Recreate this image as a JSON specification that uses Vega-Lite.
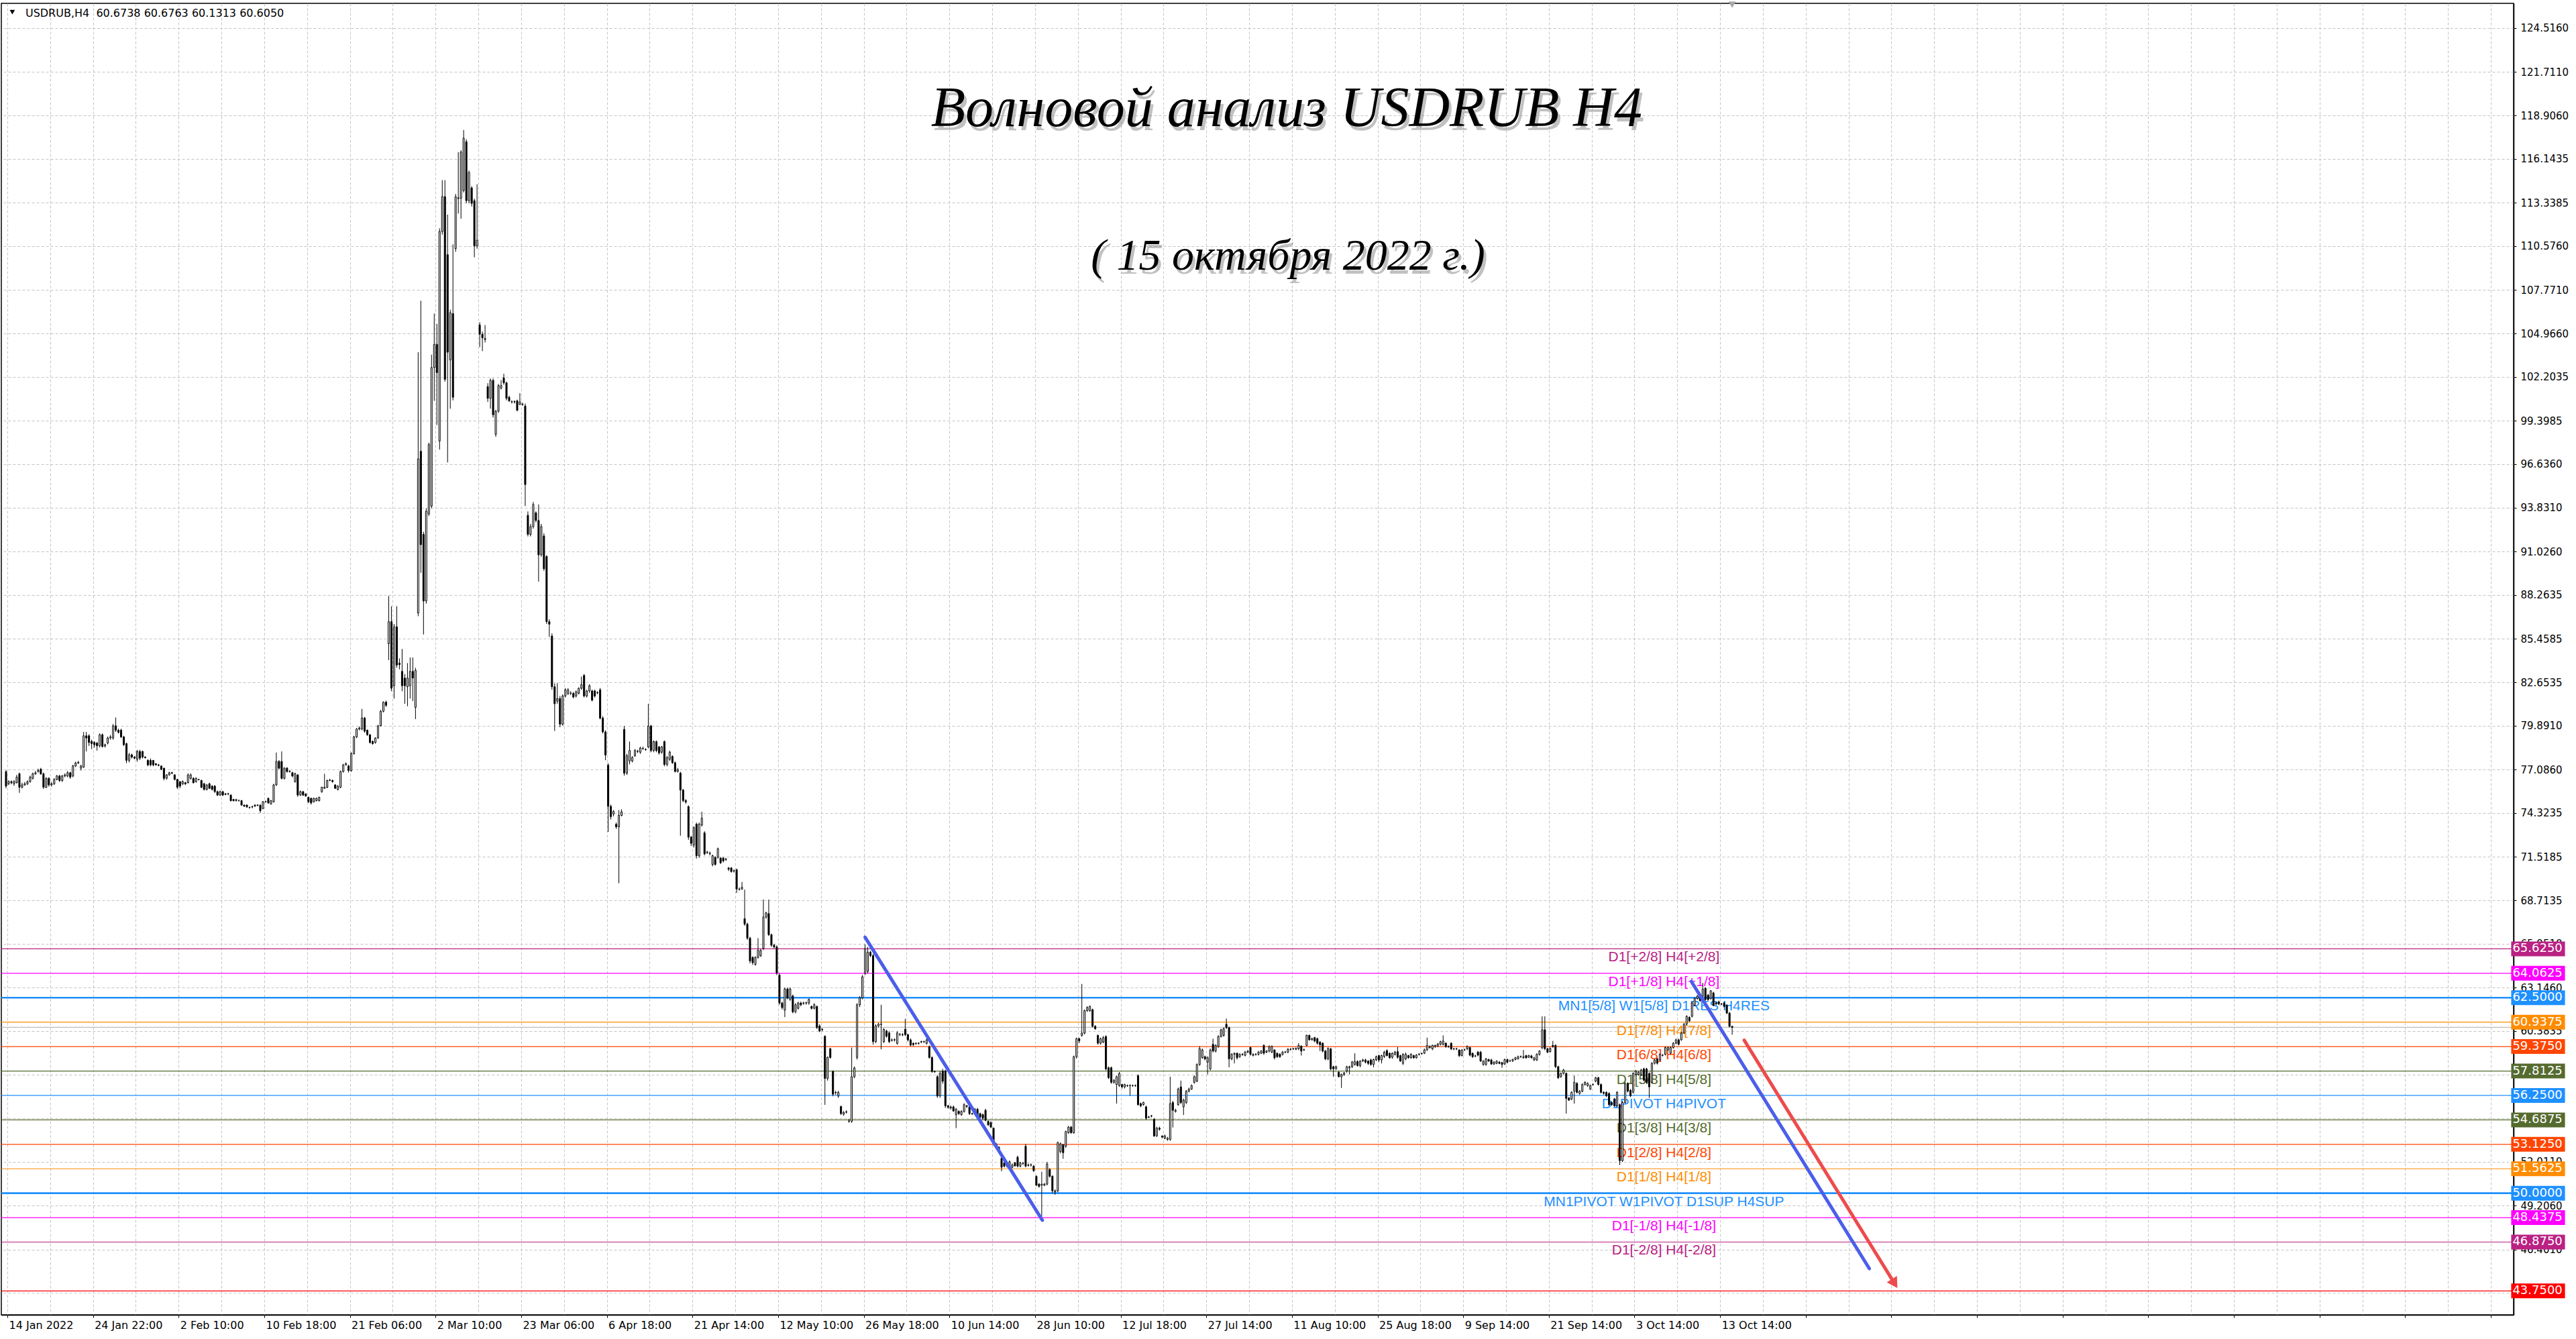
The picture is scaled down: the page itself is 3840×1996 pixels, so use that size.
{
"$schema":"https://vega.github.io/schema/vega-lite/v6.json",
"width":3745,"height":1955,
"autosize":{"type":"none"},
"padding":{"left":2,"top":5,"right":93,"bottom":36},
"background":"white",
"config":{"view":{"stroke":"black","strokeWidth":1.5},"axis":{"domainColor":"black","tickColor":"black","labelColor":"black"}},
"datasets":{
"levels":[
{"v":65.625,"k":"+2/8","t":"D1[+2/8] H4[+2/8]"},
{"v":64.0625,"k":"+1/8","t":"D1[+1/8] H4[+1/8]"},
{"v":62.5,"k":"8/8","t":"MN1[5/8] W1[5/8] D1RES H4RES"},
{"v":60.9375,"k":"7/8","t":"D1[7/8] H4[7/8]"},
{"v":59.375,"k":"6/8","t":"D1[6/8] H4[6/8]"},
{"v":57.8125,"k":"5/8","t":"D1[5/8] H4[5/8]"},
{"v":56.25,"k":"4/8","t":"D1PIVOT H4PIVOT"},
{"v":54.6875,"k":"3/8","t":"D1[3/8] H4[3/8]"},
{"v":53.125,"k":"2/8","t":"D1[2/8] H4[2/8]"},
{"v":51.5625,"k":"1/8","t":"D1[1/8] H4[1/8]"},
{"v":50,"k":"0/8","t":"MN1PIVOT W1PIVOT D1SUP H4SUP"},
{"v":48.4375,"k":"-1/8","t":"D1[-1/8] H4[-1/8]"},
{"v":46.875,"k":"-2/8","t":"D1[-2/8] H4[-2/8]"},
{"v":43.75,"k":"low","t":""}
],
"lines":[
{"g":"b1","i":321,"v":66.37},{"g":"b1","i":387.25,"v":48.27},
{"g":"b2","i":629.75,"v":63.54},{"g":"b2","i":696.25,"v":45.18},
{"g":"r","i":649.5,"v":59.78},{"g":"r","i":705.7,"v":44.22}
],
"candles":[
{"i":0,"o":76.96,"h":77.05,"l":75.9,"c":76.03},
{"i":1,"o":76.18,"h":76.4,"l":76.1,"c":76.32},
{"i":2,"o":76.32,"h":76.4,"l":76.15,"c":76.25},
{"i":3,"o":76.18,"h":76.42,"l":76.05,"c":76.32},
{"i":4,"o":76.25,"h":76.75,"l":76.2,"c":76.61},
{"i":5,"o":76.82,"h":76.9,"l":75.6,"c":75.96},
{"i":6,"o":75.96,"h":76.25,"l":75.88,"c":76.11},
{"i":7,"o":76.11,"h":76.3,"l":76.05,"c":76.18},
{"i":8,"o":76.18,"h":76.4,"l":76.1,"c":76.32},
{"i":9,"o":76.32,"h":76.7,"l":76.25,"c":76.61},
{"i":10,"o":76.53,"h":76.9,"l":76.45,"c":76.82},
{"i":11,"o":76.82,"h":77.0,"l":76.75,"c":76.89},
{"i":12,"o":76.96,"h":77.15,"l":76.9,"c":77.03},
{"i":13,"o":77.11,"h":77.2,"l":76.75,"c":76.82},
{"i":14,"o":76.82,"h":76.9,"l":75.85,"c":75.96},
{"i":15,"o":75.96,"h":76.6,"l":75.9,"c":76.53},
{"i":16,"o":76.53,"h":76.6,"l":76.0,"c":76.11},
{"i":17,"o":76.11,"h":76.3,"l":76.0,"c":76.18},
{"i":18,"o":76.18,"h":76.55,"l":76.1,"c":76.46},
{"i":19,"o":76.46,"h":76.75,"l":76.4,"c":76.68},
{"i":20,"o":76.68,"h":76.75,"l":76.3,"c":76.39},
{"i":21,"o":76.39,"h":76.75,"l":76.3,"c":76.68},
{"i":22,"o":76.68,"h":76.85,"l":76.6,"c":76.75},
{"i":23,"o":76.68,"h":77.0,"l":76.6,"c":76.89},
{"i":24,"o":76.89,"h":76.95,"l":76.5,"c":76.61},
{"i":25,"o":76.68,"h":77.4,"l":76.6,"c":77.32},
{"i":26,"o":77.32,"h":77.6,"l":77.25,"c":77.51},
{"i":27,"o":77.51,"h":77.65,"l":77.45,"c":77.55},
{"i":28,"o":77.18,"h":77.4,"l":77.03,"c":77.32},
{"i":29,"o":77.25,"h":79.5,"l":77.2,"c":79.25},
{"i":30,"o":79.25,"h":79.5,"l":78.25,"c":79.11},
{"i":31,"o":79.25,"h":79.35,"l":78.6,"c":78.82},
{"i":32,"o":78.89,"h":79.0,"l":78.4,"c":78.75},
{"i":33,"o":78.82,"h":78.9,"l":78.5,"c":78.68},
{"i":34,"o":78.79,"h":78.85,"l":78.3,"c":78.61},
{"i":35,"o":78.61,"h":79.4,"l":78.5,"c":79.32},
{"i":36,"o":79.32,"h":79.4,"l":78.5,"c":78.56},
{"i":37,"o":78.6,"h":78.75,"l":78.5,"c":78.68},
{"i":38,"o":78.79,"h":79.2,"l":78.7,"c":79.11},
{"i":39,"o":79.11,"h":79.3,"l":79.0,"c":79.18},
{"i":40,"o":79.11,"h":80.0,"l":79.0,"c":79.89},
{"i":41,"o":79.89,"h":80.42,"l":79.5,"c":79.61},
{"i":42,"o":79.61,"h":79.7,"l":79.4,"c":79.47},
{"i":43,"o":79.61,"h":79.7,"l":79.1,"c":79.18},
{"i":44,"o":79.18,"h":79.25,"l":78.6,"c":78.68},
{"i":45,"o":78.75,"h":78.8,"l":77.5,"c":77.68},
{"i":46,"o":77.68,"h":78.15,"l":77.55,"c":78.04},
{"i":47,"o":78.04,"h":78.1,"l":77.8,"c":77.89},
{"i":48,"o":77.89,"h":77.95,"l":77.75,"c":77.82},
{"i":49,"o":77.75,"h":78.35,"l":77.6,"c":78.25},
{"i":50,"o":78.25,"h":78.35,"l":77.7,"c":77.82},
{"i":51,"o":78.25,"h":78.3,"l":77.8,"c":77.89},
{"i":52,"o":77.89,"h":77.95,"l":77.8,"c":77.85},
{"i":53,"o":77.68,"h":77.75,"l":77.3,"c":77.39},
{"i":54,"o":77.68,"h":77.8,"l":77.3,"c":77.39},
{"i":55,"o":77.68,"h":77.7,"l":77.3,"c":77.39},
{"i":56,"o":77.46,"h":77.5,"l":77.35,"c":77.39},
{"i":57,"o":77.39,"h":77.45,"l":77.3,"c":77.36},
{"i":58,"o":77.32,"h":77.35,"l":77.05,"c":77.11},
{"i":59,"o":77.18,"h":77.2,"l":76.4,"c":76.53},
{"i":60,"o":76.53,"h":76.8,"l":76.45,"c":76.75},
{"i":61,"o":76.75,"h":76.95,"l":76.7,"c":76.89},
{"i":62,"o":76.89,"h":76.95,"l":76.8,"c":76.86},
{"i":63,"o":76.75,"h":76.8,"l":76.4,"c":76.46},
{"i":64,"o":76.46,"h":76.5,"l":75.85,"c":75.96},
{"i":65,"o":76.32,"h":76.35,"l":75.9,"c":76.03},
{"i":66,"o":76.18,"h":76.4,"l":76.1,"c":76.32},
{"i":67,"o":76.25,"h":76.3,"l":76.1,"c":76.18},
{"i":68,"o":76.25,"h":76.85,"l":76.2,"c":76.75},
{"i":69,"o":76.53,"h":76.85,"l":76.45,"c":76.75},
{"i":70,"o":76.53,"h":76.6,"l":76.2,"c":76.25},
{"i":71,"o":76.32,"h":76.6,"l":76.25,"c":76.53},
{"i":72,"o":76.46,"h":76.5,"l":76.4,"c":76.45},
{"i":73,"o":76.39,"h":76.45,"l":75.9,"c":75.96},
{"i":74,"o":76.18,"h":76.25,"l":75.75,"c":75.82},
{"i":75,"o":75.82,"h":76.15,"l":75.75,"c":76.11},
{"i":76,"o":76.18,"h":76.25,"l":75.85,"c":75.89},
{"i":77,"o":76.03,"h":76.1,"l":75.75,"c":75.82},
{"i":78,"o":76.03,"h":76.1,"l":75.6,"c":75.68},
{"i":79,"o":75.68,"h":75.75,"l":75.4,"c":75.46},
{"i":80,"o":75.46,"h":75.75,"l":75.4,"c":75.68},
{"i":81,"o":75.68,"h":75.72,"l":75.4,"c":75.46},
{"i":82,"o":75.53,"h":75.6,"l":75.45,"c":75.5},
{"i":83,"o":75.53,"h":75.6,"l":75.45,"c":75.55},
{"i":84,"o":75.46,"h":75.5,"l":75.05,"c":75.1},
{"i":85,"o":75.18,"h":75.22,"l":75.05,"c":75.1},
{"i":86,"o":75.1,"h":75.22,"l":75.05,"c":75.18},
{"i":87,"o":75.1,"h":75.18,"l":75.05,"c":75.1},
{"i":88,"o":75.1,"h":75.15,"l":74.78,"c":74.82},
{"i":89,"o":74.82,"h":74.86,"l":74.7,"c":74.75},
{"i":90,"o":74.82,"h":74.86,"l":74.65,"c":74.7},
{"i":91,"o":74.67,"h":74.72,"l":74.6,"c":74.65},
{"i":92,"o":74.7,"h":74.78,"l":74.62,"c":74.72},
{"i":93,"o":74.75,"h":74.88,"l":74.7,"c":74.82},
{"i":94,"o":74.82,"h":74.88,"l":74.75,"c":74.8},
{"i":95,"o":74.82,"h":74.86,"l":74.32,"c":74.46},
{"i":96,"o":74.6,"h":75.08,"l":74.55,"c":75.03},
{"i":97,"o":75.03,"h":75.1,"l":74.98,"c":75.05},
{"i":98,"o":75.25,"h":75.3,"l":74.9,"c":74.96},
{"i":99,"o":74.89,"h":75.15,"l":74.85,"c":75.1},
{"i":100,"o":75.03,"h":76.18,"l":74.98,"c":76.11},
{"i":101,"o":76.11,"h":78.18,"l":76.05,"c":77.61},
{"i":102,"o":77.61,"h":77.7,"l":77.1,"c":77.18},
{"i":103,"o":77.61,"h":78.25,"l":76.45,"c":76.53},
{"i":104,"o":76.53,"h":77.25,"l":76.45,"c":77.18},
{"i":105,"o":77.18,"h":77.25,"l":76.9,"c":76.96},
{"i":106,"o":76.96,"h":77.05,"l":76.9,"c":76.98},
{"i":107,"o":76.89,"h":76.95,"l":76.6,"c":76.68},
{"i":108,"o":76.32,"h":76.9,"l":76.25,"c":76.82},
{"i":109,"o":76.75,"h":76.8,"l":75.35,"c":75.46},
{"i":110,"o":75.46,"h":75.75,"l":75.4,"c":75.68},
{"i":111,"o":75.68,"h":75.72,"l":75.4,"c":75.46},
{"i":112,"o":75.53,"h":75.58,"l":75.35,"c":75.4},
{"i":113,"o":75.32,"h":75.36,"l":74.96,"c":75.03},
{"i":114,"o":75.25,"h":75.3,"l":74.85,"c":74.96},
{"i":115,"o":75.03,"h":75.3,"l":74.98,"c":75.25},
{"i":116,"o":75.1,"h":75.3,"l":75.05,"c":75.25},
{"i":117,"o":75.1,"h":75.36,"l":75.05,"c":75.32},
{"i":118,"o":75.68,"h":76.0,"l":75.6,"c":75.96},
{"i":119,"o":75.89,"h":76.82,"l":75.85,"c":75.96},
{"i":120,"o":75.96,"h":76.45,"l":75.9,"c":76.39},
{"i":121,"o":76.39,"h":76.5,"l":76.35,"c":76.42},
{"i":122,"o":76.39,"h":76.45,"l":76.25,"c":76.32},
{"i":123,"o":76.11,"h":76.15,"l":75.85,"c":75.89},
{"i":124,"o":75.82,"h":76.1,"l":75.75,"c":76.03},
{"i":125,"o":75.96,"h":77.03,"l":75.9,"c":76.96},
{"i":126,"o":76.96,"h":77.45,"l":76.9,"c":77.39},
{"i":127,"o":77.39,"h":77.55,"l":77.35,"c":77.46},
{"i":128,"o":77.32,"h":77.4,"l":76.9,"c":77.03},
{"i":129,"o":77.03,"h":78.2,"l":76.95,"c":78.11},
{"i":130,"o":78.11,"h":79.25,"l":78.05,"c":79.18},
{"i":131,"o":79.18,"h":79.75,"l":79.1,"c":79.68},
{"i":132,"o":79.68,"h":79.85,"l":79.6,"c":79.75},
{"i":133,"o":79.68,"h":80.97,"l":79.6,"c":80.39},
{"i":134,"o":80.39,"h":80.45,"l":79.45,"c":79.54},
{"i":135,"o":79.61,"h":79.65,"l":79.25,"c":79.32},
{"i":136,"o":79.32,"h":79.35,"l":78.75,"c":78.82},
{"i":137,"o":78.89,"h":78.95,"l":78.68,"c":78.75},
{"i":138,"o":78.82,"h":79.15,"l":78.75,"c":79.11},
{"i":139,"o":79.11,"h":79.95,"l":79.05,"c":79.89},
{"i":140,"o":79.89,"h":80.9,"l":79.85,"c":80.82},
{"i":141,"o":80.82,"h":81.45,"l":80.75,"c":81.4},
{"i":142,"o":81.4,"h":81.5,"l":81.1,"c":81.2},
{"i":143,"o":85.14,"h":88.19,"l":84.09,"c":86.55},
{"i":144,"o":86.55,"h":87.54,"l":82.1,"c":82.29},
{"i":145,"o":82.45,"h":86.4,"l":81.63,"c":86.22},
{"i":146,"o":86.22,"h":87.54,"l":83.6,"c":83.77},
{"i":147,"o":83.9,"h":84.2,"l":83.5,"c":83.8},
{"i":148,"o":83.37,"h":84.8,"l":82.1,"c":82.45},
{"i":149,"o":82.94,"h":83.2,"l":81.3,"c":82.45},
{"i":150,"o":82.39,"h":83.9,"l":81.14,"c":82.94},
{"i":151,"o":82.45,"h":84.26,"l":81.63,"c":83.37},
{"i":152,"o":83.37,"h":84.26,"l":81.47,"c":82.94},
{"i":153,"o":81.07,"h":83.6,"l":80.32,"c":83.44},
{"i":154,"o":87.11,"h":103.78,"l":86.9,"c":96.96},
{"i":155,"o":97.45,"h":107.07,"l":89.67,"c":91.47},
{"i":156,"o":92.13,"h":92.3,"l":85.73,"c":87.87},
{"i":157,"o":87.87,"h":93.8,"l":87.7,"c":93.61},
{"i":158,"o":93.44,"h":98.0,"l":93.3,"c":97.88},
{"i":159,"o":93.94,"h":103.62,"l":93.8,"c":102.8},
{"i":160,"o":102.8,"h":106.25,"l":100.67,"c":104.28},
{"i":161,"o":104.28,"h":105.59,"l":99.12,"c":102.47},
{"i":162,"o":98.1,"h":111.7,"l":97.55,"c":111.5},
{"i":163,"o":111.5,"h":114.78,"l":111.3,"c":113.73},
{"i":164,"o":113.73,"h":114.78,"l":101.9,"c":102.04},
{"i":165,"o":110.02,"h":112.58,"l":96.73,"c":103.78},
{"i":166,"o":103.29,"h":106.5,"l":100.17,"c":106.31},
{"i":167,"o":106.25,"h":110.68,"l":100.7,"c":100.9},
{"i":168,"o":110.41,"h":113.9,"l":110.2,"c":113.73},
{"i":169,"o":113.6,"h":116.58,"l":112.65,"c":113.66},
{"i":170,"o":113.63,"h":116.7,"l":112.32,"c":116.58},
{"i":171,"o":114.12,"h":117.99,"l":114.0,"c":117.47},
{"i":172,"o":117.24,"h":117.4,"l":113.3,"c":113.47},
{"i":173,"o":113.47,"h":115.4,"l":113.3,"c":115.27},
{"i":174,"o":114.29,"h":114.4,"l":113.1,"c":113.3},
{"i":175,"o":113.47,"h":113.6,"l":109.85,"c":110.58},
{"i":176,"o":110.58,"h":114.52,"l":110.4,"c":110.94},
{"i":177,"o":105.52,"h":105.7,"l":104.11,"c":104.93},
{"i":178,"o":104.93,"h":105.1,"l":103.85,"c":104.7},
{"i":179,"o":104.65,"h":105.52,"l":104.4,"c":104.6},
{"i":180,"o":101.58,"h":101.8,"l":100.6,"c":100.83},
{"i":181,"o":100.83,"h":102.1,"l":100.17,"c":101.98},
{"i":182,"o":101.98,"h":102.1,"l":99.6,"c":99.78},
{"i":183,"o":98.53,"h":100.1,"l":98.37,"c":100.01},
{"i":184,"o":100.01,"h":101.75,"l":99.9,"c":101.65},
{"i":185,"o":101.49,"h":102.0,"l":101.4,"c":101.65},
{"i":186,"o":102.14,"h":102.4,"l":101.7,"c":101.82},
{"i":187,"o":101.82,"h":101.9,"l":100.7,"c":100.83},
{"i":188,"o":100.9,"h":101.0,"l":100.6,"c":100.67},
{"i":189,"o":100.6,"h":100.7,"l":100.5,"c":100.62},
{"i":190,"o":100.62,"h":100.7,"l":100.5,"c":100.6},
{"i":191,"o":100.67,"h":100.75,"l":100.0,"c":100.07},
{"i":192,"o":100.44,"h":101.16,"l":100.4,"c":100.6},
{"i":193,"o":100.44,"h":100.55,"l":100.35,"c":100.46},
{"i":194,"o":100.34,"h":100.5,"l":93.94,"c":95.32},
{"i":195,"o":93.35,"h":93.6,"l":92.0,"c":92.13},
{"i":196,"o":92.13,"h":92.8,"l":92.0,"c":92.63},
{"i":197,"o":92.63,"h":94.2,"l":92.5,"c":94.04},
{"i":198,"o":93.51,"h":93.6,"l":92.9,"c":93.02},
{"i":199,"o":93.02,"h":94.04,"l":89.11,"c":90.82},
{"i":200,"o":90.82,"h":92.8,"l":90.7,"c":92.63},
{"i":201,"o":92.03,"h":92.2,"l":89.8,"c":89.93},
{"i":202,"o":90.72,"h":90.8,"l":86.4,"c":86.55},
{"i":203,"o":86.55,"h":86.7,"l":85.57,"c":86.39},
{"i":204,"o":85.63,"h":85.8,"l":82.2,"c":82.39},
{"i":205,"o":82.39,"h":82.6,"l":79.56,"c":81.3},
{"i":206,"o":81.47,"h":82.62,"l":81.3,"c":81.63},
{"i":207,"o":81.63,"h":81.8,"l":79.8,"c":79.99},
{"i":208,"o":79.99,"h":81.9,"l":79.9,"c":81.8},
{"i":209,"o":81.8,"h":82.3,"l":81.7,"c":82.19},
{"i":210,"o":81.96,"h":82.3,"l":81.85,"c":82.19},
{"i":211,"o":81.96,"h":82.1,"l":81.85,"c":81.98},
{"i":212,"o":81.96,"h":82.05,"l":81.65,"c":81.73},
{"i":213,"o":81.8,"h":82.15,"l":81.7,"c":82.06},
{"i":214,"o":81.96,"h":82.35,"l":81.9,"c":82.29},
{"i":215,"o":82.29,"h":83.04,"l":82.2,"c":82.52},
{"i":216,"o":83.11,"h":83.2,"l":81.7,"c":81.8},
{"i":217,"o":81.8,"h":82.2,"l":81.7,"c":82.12},
{"i":218,"o":82.12,"h":82.55,"l":82.0,"c":82.45},
{"i":219,"o":82.12,"h":82.2,"l":81.45,"c":81.53},
{"i":220,"o":82.12,"h":82.2,"l":81.7,"c":81.8},
{"i":221,"o":82.02,"h":82.1,"l":81.9,"c":82.0},
{"i":222,"o":82.19,"h":82.3,"l":80.3,"c":80.38},
{"i":223,"o":80.38,"h":80.5,"l":79.4,"c":79.5},
{"i":224,"o":79.5,"h":79.6,"l":77.69,"c":78.02},
{"i":225,"o":77.37,"h":77.5,"l":73.1,"c":74.74},
{"i":226,"o":74.74,"h":74.85,"l":73.9,"c":74.08},
{"i":227,"o":74.25,"h":74.5,"l":74.1,"c":74.41},
{"i":228,"o":73.59,"h":73.7,"l":73.3,"c":73.43},
{"i":229,"o":73.43,"h":74.5,"l":69.82,"c":74.16},
{"i":230,"o":74.16,"h":74.55,"l":74.1,"c":74.39},
{"i":231,"o":79.66,"h":79.88,"l":76.7,"c":76.86},
{"i":232,"o":76.86,"h":78.1,"l":76.75,"c":77.98},
{"i":233,"o":77.64,"h":78.88,"l":77.42,"c":78.31},
{"i":234,"o":77.64,"h":77.95,"l":77.55,"c":77.87},
{"i":235,"o":77.98,"h":78.4,"l":77.9,"c":78.31},
{"i":236,"o":78.25,"h":78.35,"l":78.15,"c":78.27},
{"i":237,"o":78.2,"h":78.55,"l":78.1,"c":78.47},
{"i":238,"o":78.43,"h":78.55,"l":78.35,"c":78.45},
{"i":239,"o":78.38,"h":78.45,"l":78.3,"c":78.36},
{"i":240,"o":78.54,"h":81.3,"l":78.45,"c":79.88},
{"i":241,"o":79.88,"h":79.95,"l":78.2,"c":78.31},
{"i":242,"o":78.31,"h":78.95,"l":78.2,"c":78.88},
{"i":243,"o":78.88,"h":78.95,"l":78.2,"c":78.31},
{"i":244,"o":78.54,"h":78.6,"l":78.05,"c":78.16},
{"i":245,"o":78.2,"h":78.6,"l":78.1,"c":78.54},
{"i":246,"o":78.88,"h":78.95,"l":77.3,"c":77.42},
{"i":247,"o":77.42,"h":77.95,"l":77.3,"c":77.87},
{"i":248,"o":77.75,"h":78.3,"l":77.65,"c":78.2},
{"i":249,"o":77.93,"h":78.0,"l":77.45,"c":77.53},
{"i":250,"o":77.53,"h":77.6,"l":76.9,"c":76.97},
{"i":251,"o":76.97,"h":77.2,"l":76.9,"c":77.08},
{"i":252,"o":76.86,"h":76.95,"l":72.86,"c":75.78},
{"i":253,"o":75.78,"h":75.85,"l":75.0,"c":75.11},
{"i":254,"o":75.11,"h":75.2,"l":74.9,"c":75.02},
{"i":255,"o":74.72,"h":74.8,"l":72.6,"c":72.77},
{"i":256,"o":72.77,"h":72.85,"l":72.2,"c":72.37},
{"i":257,"o":72.26,"h":73.45,"l":72.1,"c":73.38},
{"i":258,"o":73.6,"h":73.7,"l":71.4,"c":71.58},
{"i":259,"o":71.58,"h":73.7,"l":71.45,"c":73.6},
{"i":260,"o":73.54,"h":74.39,"l":73.45,"c":73.98},
{"i":261,"o":73.04,"h":73.15,"l":71.6,"c":71.7},
{"i":262,"o":71.81,"h":71.9,"l":71.7,"c":71.78},
{"i":263,"o":71.74,"h":71.85,"l":71.6,"c":71.72},
{"i":264,"o":71.02,"h":71.65,"l":70.9,"c":71.58},
{"i":265,"o":71.47,"h":71.55,"l":70.95,"c":71.02},
{"i":266,"o":71.47,"h":72.1,"l":71.4,"c":72.03},
{"i":267,"o":71.43,"h":71.5,"l":71.05,"c":71.13},
{"i":268,"o":71.43,"h":71.5,"l":71.15,"c":71.25},
{"i":269,"o":71.36,"h":71.45,"l":71.25,"c":71.34},
{"i":270,"o":70.8,"h":70.85,"l":70.6,"c":70.72},
{"i":271,"o":70.8,"h":70.85,"l":70.5,"c":70.57},
{"i":272,"o":70.62,"h":70.7,"l":70.5,"c":70.6},
{"i":273,"o":70.69,"h":70.75,"l":69.2,"c":69.45},
{"i":274,"o":69.45,"h":69.55,"l":69.35,"c":69.43},
{"i":275,"o":69.45,"h":69.9,"l":69.4,"c":69.56},
{"i":276,"o":67.55,"h":69.41,"l":67.1,"c":67.21},
{"i":277,"o":67.21,"h":67.3,"l":66.2,"c":66.31},
{"i":278,"o":66.31,"h":66.4,"l":64.7,"c":64.85},
{"i":279,"o":65.08,"h":65.15,"l":64.6,"c":64.74},
{"i":280,"o":64.63,"h":65.15,"l":64.55,"c":65.08},
{"i":281,"o":65.08,"h":66.31,"l":65.0,"c":65.53},
{"i":282,"o":65.19,"h":65.6,"l":65.1,"c":65.53},
{"i":283,"o":65.64,"h":68.78,"l":65.55,"c":67.66},
{"i":284,"o":67.66,"h":68.0,"l":67.55,"c":67.93},
{"i":285,"o":67.88,"h":68.78,"l":66.45,"c":66.53},
{"i":286,"o":66.53,"h":66.6,"l":65.75,"c":65.86},
{"i":287,"o":65.86,"h":65.95,"l":65.65,"c":65.75},
{"i":288,"o":65.75,"h":65.85,"l":63.95,"c":64.07},
{"i":289,"o":63.95,"h":64.05,"l":62.05,"c":62.16},
{"i":290,"o":62.16,"h":62.25,"l":61.75,"c":61.87},
{"i":291,"o":61.71,"h":63.15,"l":61.26,"c":63.06},
{"i":292,"o":63.06,"h":63.15,"l":62.4,"c":62.5},
{"i":293,"o":62.39,"h":63.15,"l":62.3,"c":63.06},
{"i":294,"o":62.61,"h":62.7,"l":61.5,"c":61.6},
{"i":295,"o":61.6,"h":62.15,"l":61.5,"c":62.05},
{"i":296,"o":61.82,"h":62.25,"l":61.75,"c":62.16},
{"i":297,"o":62.16,"h":62.25,"l":61.95,"c":62.05},
{"i":298,"o":62.16,"h":62.25,"l":62.05,"c":62.14},
{"i":299,"o":62.16,"h":62.25,"l":62.05,"c":62.18},
{"i":300,"o":62.16,"h":62.45,"l":62.05,"c":62.39},
{"i":301,"o":61.94,"h":62.0,"l":61.75,"c":61.82},
{"i":302,"o":61.82,"h":62.15,"l":61.75,"c":62.05},
{"i":303,"o":61.94,"h":62.0,"l":60.5,"c":60.59},
{"i":304,"o":60.7,"h":60.8,"l":60.3,"c":60.37},
{"i":305,"o":60.48,"h":60.55,"l":60.35,"c":60.46},
{"i":306,"o":60.03,"h":60.1,"l":55.65,"c":57.34},
{"i":307,"o":57.34,"h":58.75,"l":57.2,"c":58.68},
{"i":308,"o":59.24,"h":59.3,"l":58.6,"c":58.68},
{"i":309,"o":57.78,"h":57.85,"l":56.2,"c":56.33},
{"i":310,"o":56.44,"h":56.55,"l":56.3,"c":56.42},
{"i":311,"o":56.21,"h":56.55,"l":56.1,"c":56.44},
{"i":312,"o":55.54,"h":55.6,"l":55.0,"c":55.09},
{"i":313,"o":55.05,"h":55.25,"l":54.95,"c":55.16},
{"i":314,"o":55.2,"h":55.3,"l":55.1,"c":55.18},
{"i":315,"o":54.6,"h":54.75,"l":54.5,"c":54.62},
{"i":316,"o":54.6,"h":59.31,"l":54.5,"c":57.45},
{"i":317,"o":57.45,"h":58.1,"l":57.35,"c":58.01},
{"i":318,"o":58.68,"h":62.15,"l":58.55,"c":62.05},
{"i":319,"o":62.05,"h":62.6,"l":61.9,"c":62.5},
{"i":320,"o":62.5,"h":63.95,"l":62.4,"c":63.84},
{"i":321,"o":64.07,"h":65.9,"l":63.95,"c":65.64},
{"i":322,"o":64.18,"h":65.75,"l":64.05,"c":65.41},
{"i":323,"o":65.41,"h":65.5,"l":65.1,"c":65.19},
{"i":324,"o":65.19,"h":65.3,"l":59.5,"c":59.69},
{"i":325,"o":59.69,"h":60.8,"l":59.6,"c":60.7},
{"i":326,"o":60.7,"h":60.9,"l":60.6,"c":60.81},
{"i":327,"o":60.81,"h":62.05,"l":59.2,"c":60.79},
{"i":328,"o":59.69,"h":60.55,"l":59.6,"c":60.48},
{"i":329,"o":60.37,"h":60.45,"l":59.95,"c":60.03},
{"i":330,"o":60.25,"h":60.35,"l":59.6,"c":59.69},
{"i":331,"o":59.8,"h":59.9,"l":59.7,"c":59.78},
{"i":332,"o":59.8,"h":59.9,"l":59.7,"c":59.82},
{"i":333,"o":59.58,"h":60.35,"l":59.5,"c":60.25},
{"i":334,"o":60.14,"h":60.25,"l":60.05,"c":60.15},
{"i":335,"o":60.14,"h":60.25,"l":60.05,"c":60.12},
{"i":336,"o":60.48,"h":61.15,"l":60.05,"c":60.14},
{"i":337,"o":60.14,"h":60.2,"l":59.7,"c":59.8},
{"i":338,"o":59.8,"h":59.9,"l":59.4,"c":59.47},
{"i":339,"o":59.58,"h":59.65,"l":59.4,"c":59.5},
{"i":340,"o":59.58,"h":59.65,"l":59.5,"c":59.56},
{"i":341,"o":59.58,"h":59.65,"l":59.5,"c":59.6},
{"i":342,"o":59.69,"h":59.75,"l":59.6,"c":59.67},
{"i":343,"o":59.69,"h":59.75,"l":59.6,"c":59.7},
{"i":344,"o":59.58,"h":59.9,"l":59.5,"c":59.8},
{"i":345,"o":59.36,"h":59.45,"l":58.6,"c":58.68},
{"i":346,"o":58.68,"h":58.75,"l":57.7,"c":57.78},
{"i":347,"o":57.78,"h":57.85,"l":57.7,"c":57.76},
{"i":348,"o":57.45,"h":57.55,"l":56.1,"c":56.21},
{"i":349,"o":56.23,"h":57.8,"l":56.1,"c":57.66},
{"i":350,"o":57.81,"h":57.95,"l":57.0,"c":57.16},
{"i":351,"o":57.81,"h":57.9,"l":55.45,"c":55.59},
{"i":352,"o":55.59,"h":55.65,"l":55.4,"c":55.49},
{"i":353,"o":55.45,"h":55.6,"l":55.35,"c":55.52},
{"i":354,"o":55.52,"h":55.6,"l":55.2,"c":55.26},
{"i":355,"o":55.02,"h":55.45,"l":54.16,"c":55.37},
{"i":356,"o":55.23,"h":55.3,"l":55.0,"c":55.09},
{"i":357,"o":55.02,"h":55.3,"l":54.95,"c":55.23},
{"i":358,"o":55.23,"h":55.75,"l":55.15,"c":55.66},
{"i":359,"o":55.59,"h":55.65,"l":55.45,"c":55.55},
{"i":360,"o":55.52,"h":55.6,"l":55.0,"c":55.09},
{"i":361,"o":55.09,"h":55.15,"l":55.0,"c":55.07},
{"i":362,"o":55.09,"h":55.45,"l":55.0,"c":55.37},
{"i":363,"o":55.37,"h":55.45,"l":54.9,"c":54.95},
{"i":364,"o":55.09,"h":55.15,"l":54.8,"c":54.87},
{"i":365,"o":55.02,"h":55.1,"l":54.7,"c":54.8},
{"i":366,"o":55.3,"h":55.4,"l":54.6,"c":54.66},
{"i":367,"o":54.59,"h":54.65,"l":54.3,"c":54.37},
{"i":368,"o":54.52,"h":54.6,"l":54.15,"c":54.23},
{"i":369,"o":54.16,"h":54.2,"l":53.05,"c":53.16},
{"i":370,"o":53.16,"h":53.2,"l":52.85,"c":52.94},
{"i":371,"o":52.94,"h":53.0,"l":52.7,"c":52.8},
{"i":372,"o":52.23,"h":52.3,"l":51.4,"c":51.66},
{"i":373,"o":51.94,"h":52.0,"l":51.65,"c":51.73},
{"i":374,"o":51.73,"h":52.0,"l":51.65,"c":51.94},
{"i":375,"o":51.73,"h":52.1,"l":51.65,"c":52.01},
{"i":376,"o":51.66,"h":51.9,"l":51.6,"c":51.8},
{"i":377,"o":51.94,"h":52.0,"l":51.7,"c":51.75},
{"i":378,"o":52.3,"h":52.4,"l":51.65,"c":51.73},
{"i":379,"o":51.73,"h":52.0,"l":51.65,"c":51.94},
{"i":380,"o":51.91,"h":52.0,"l":51.8,"c":51.9},
{"i":381,"o":53.0,"h":53.15,"l":51.65,"c":51.73},
{"i":382,"o":51.8,"h":51.9,"l":51.7,"c":51.78},
{"i":383,"o":51.8,"h":51.9,"l":51.7,"c":51.82},
{"i":384,"o":51.73,"h":51.8,"l":51.35,"c":51.44},
{"i":385,"o":51.08,"h":51.15,"l":50.45,"c":50.51},
{"i":386,"o":50.58,"h":50.65,"l":50.35,"c":50.44},
{"i":387,"o":50.51,"h":51.37,"l":48.51,"c":50.58},
{"i":388,"o":50.51,"h":50.65,"l":50.45,"c":50.58},
{"i":389,"o":50.58,"h":52.0,"l":50.5,"c":51.87},
{"i":390,"o":51.51,"h":51.6,"l":51.0,"c":51.08},
{"i":391,"o":51.08,"h":51.15,"l":50.0,"c":50.15},
{"i":392,"o":50.08,"h":50.25,"l":49.9,"c":50.15},
{"i":393,"o":50.15,"h":53.3,"l":50.05,"c":53.23},
{"i":394,"o":52.66,"h":53.25,"l":52.55,"c":53.16},
{"i":395,"o":53.09,"h":53.15,"l":52.2,"c":52.59},
{"i":396,"o":53.01,"h":54.0,"l":52.9,"c":53.94},
{"i":397,"o":53.87,"h":54.3,"l":53.8,"c":54.23},
{"i":398,"o":54.23,"h":54.3,"l":53.8,"c":53.87},
{"i":399,"o":53.87,"h":58.8,"l":53.8,"c":58.73},
{"i":400,"o":58.73,"h":59.95,"l":58.6,"c":59.88},
{"i":401,"o":59.88,"h":59.95,"l":59.6,"c":59.74},
{"i":402,"o":60.09,"h":63.38,"l":60.0,"c":60.24},
{"i":403,"o":60.24,"h":61.75,"l":60.15,"c":61.67},
{"i":404,"o":61.67,"h":61.95,"l":61.6,"c":61.88},
{"i":405,"o":61.67,"h":62.0,"l":61.6,"c":61.95},
{"i":406,"o":61.74,"h":61.8,"l":60.6,"c":60.67},
{"i":407,"o":60.67,"h":60.75,"l":60.45,"c":60.52},
{"i":408,"o":60.09,"h":60.15,"l":59.5,"c":59.59},
{"i":409,"o":59.59,"h":59.95,"l":59.5,"c":59.88},
{"i":410,"o":59.66,"h":60.05,"l":59.6,"c":59.95},
{"i":411,"o":60.02,"h":60.1,"l":57.85,"c":57.95},
{"i":412,"o":58.02,"h":58.1,"l":57.3,"c":57.38},
{"i":413,"o":58.02,"h":58.1,"l":57.0,"c":57.09},
{"i":414,"o":57.09,"h":57.3,"l":57.0,"c":57.23},
{"i":415,"o":56.95,"h":57.52,"l":55.73,"c":57.45},
{"i":416,"o":56.88,"h":57.75,"l":56.8,"c":57.66},
{"i":417,"o":56.95,"h":57.0,"l":56.7,"c":56.8},
{"i":418,"o":56.8,"h":57.0,"l":56.7,"c":56.95},
{"i":419,"o":56.88,"h":56.95,"l":56.8,"c":56.86},
{"i":420,"o":56.88,"h":56.95,"l":56.23,"c":56.9},
{"i":421,"o":56.88,"h":56.95,"l":56.8,"c":56.87},
{"i":422,"o":56.88,"h":56.95,"l":56.8,"c":56.89},
{"i":423,"o":57.52,"h":57.6,"l":55.6,"c":55.66},
{"i":424,"o":55.73,"h":55.8,"l":55.5,"c":55.59},
{"i":425,"o":55.66,"h":55.85,"l":55.6,"c":55.8},
{"i":426,"o":55.52,"h":55.6,"l":54.7,"c":54.8},
{"i":427,"o":54.87,"h":54.95,"l":54.8,"c":54.85},
{"i":428,"o":54.95,"h":55.0,"l":54.85,"c":54.93},
{"i":429,"o":54.73,"h":54.8,"l":53.6,"c":53.66},
{"i":430,"o":53.66,"h":54.25,"l":53.6,"c":54.16},
{"i":431,"o":54.16,"h":54.25,"l":54.0,"c":54.09},
{"i":432,"o":53.66,"h":53.7,"l":53.5,"c":53.59},
{"i":433,"o":53.52,"h":53.75,"l":53.45,"c":53.66},
{"i":434,"o":53.44,"h":53.6,"l":53.35,"c":53.52},
{"i":435,"o":53.44,"h":57.45,"l":53.35,"c":55.73},
{"i":436,"o":55.8,"h":55.9,"l":54.2,"c":55.3},
{"i":437,"o":55.23,"h":55.4,"l":55.15,"c":55.3},
{"i":438,"o":55.66,"h":56.75,"l":55.6,"c":56.66},
{"i":439,"o":56.8,"h":57.2,"l":55.7,"c":55.8},
{"i":440,"o":55.52,"h":56.05,"l":55.0,"c":55.95},
{"i":441,"o":55.8,"h":56.6,"l":55.7,"c":56.52},
{"i":442,"o":56.52,"h":56.75,"l":56.45,"c":56.66},
{"i":443,"o":56.66,"h":56.95,"l":56.6,"c":56.88},
{"i":444,"o":57.09,"h":57.52,"l":57.0,"c":57.45},
{"i":445,"o":57.16,"h":58.3,"l":57.1,"c":58.23},
{"i":446,"o":58.23,"h":59.4,"l":58.15,"c":59.25},
{"i":447,"o":58.66,"h":59.25,"l":58.6,"c":59.16},
{"i":448,"o":58.73,"h":58.8,"l":58.5,"c":58.59},
{"i":449,"o":58.38,"h":58.75,"l":57.6,"c":58.66},
{"i":450,"o":57.95,"h":59.25,"l":57.85,"c":59.16},
{"i":451,"o":59.52,"h":59.88,"l":59.0,"c":59.09},
{"i":452,"o":59.09,"h":59.52,"l":59.0,"c":59.45},
{"i":453,"o":59.38,"h":60.1,"l":59.3,"c":60.02},
{"i":454,"o":60.02,"h":60.52,"l":59.95,"c":60.45},
{"i":455,"o":60.09,"h":60.6,"l":60.0,"c":60.52},
{"i":456,"o":60.81,"h":61.17,"l":60.5,"c":60.59},
{"i":457,"o":60.59,"h":60.65,"l":58.05,"c":58.59},
{"i":458,"o":58.59,"h":58.95,"l":58.5,"c":58.88},
{"i":459,"o":58.88,"h":59.0,"l":58.3,"c":58.95},
{"i":460,"o":58.95,"h":59.0,"l":58.55,"c":58.66},
{"i":461,"o":58.73,"h":58.95,"l":58.65,"c":58.88},
{"i":462,"o":58.88,"h":58.95,"l":58.8,"c":58.86},
{"i":463,"o":58.81,"h":59.1,"l":58.75,"c":59.02},
{"i":464,"o":59.02,"h":59.15,"l":58.95,"c":59.09},
{"i":465,"o":59.31,"h":59.38,"l":58.8,"c":58.88},
{"i":466,"o":58.81,"h":58.95,"l":58.75,"c":58.88},
{"i":467,"o":58.88,"h":58.95,"l":58.8,"c":58.87},
{"i":468,"o":58.88,"h":59.1,"l":58.8,"c":59.02},
{"i":469,"o":58.95,"h":59.15,"l":58.9,"c":59.09},
{"i":470,"o":59.45,"h":59.52,"l":58.85,"c":58.95},
{"i":471,"o":59.02,"h":59.15,"l":58.95,"c":59.09},
{"i":472,"o":59.09,"h":59.45,"l":59.0,"c":59.38},
{"i":473,"o":59.02,"h":59.45,"l":58.95,"c":59.38},
{"i":474,"o":59.16,"h":59.2,"l":58.55,"c":58.66},
{"i":475,"o":58.95,"h":59.0,"l":58.65,"c":58.73},
{"i":476,"o":58.88,"h":58.95,"l":58.65,"c":58.73},
{"i":477,"o":58.88,"h":59.1,"l":58.8,"c":59.02},
{"i":478,"o":59.02,"h":59.1,"l":58.95,"c":59.03},
{"i":479,"o":59.02,"h":59.28,"l":58.95,"c":59.21},
{"i":480,"o":59.21,"h":59.28,"l":59.12,"c":59.2},
{"i":481,"o":59.23,"h":59.3,"l":59.15,"c":59.24},
{"i":482,"o":59.21,"h":59.32,"l":59.15,"c":59.26},
{"i":483,"o":59.23,"h":59.59,"l":59.15,"c":59.45},
{"i":484,"o":59.41,"h":59.45,"l":58.8,"c":59.09},
{"i":485,"o":59.16,"h":59.25,"l":59.1,"c":59.17},
{"i":486,"o":59.45,"h":60.15,"l":59.4,"c":60.09},
{"i":487,"o":60.09,"h":60.15,"l":59.75,"c":59.81},
{"i":488,"o":59.81,"h":59.95,"l":59.75,"c":59.88},
{"i":489,"o":59.95,"h":60.0,"l":59.65,"c":59.73},
{"i":490,"o":59.88,"h":59.95,"l":59.5,"c":59.59},
{"i":491,"o":59.66,"h":59.72,"l":59.09,"c":59.49},
{"i":492,"o":59.59,"h":59.65,"l":59.0,"c":59.09},
{"i":493,"o":59.09,"h":59.15,"l":58.5,"c":58.59},
{"i":494,"o":58.59,"h":59.32,"l":58.5,"c":59.26},
{"i":495,"o":59.23,"h":59.3,"l":57.85,"c":57.95},
{"i":496,"o":58.09,"h":58.15,"l":57.45,"c":57.95},
{"i":497,"o":57.95,"h":58.15,"l":57.9,"c":58.09},
{"i":498,"o":57.73,"h":57.8,"l":57.4,"c":57.45},
{"i":499,"o":57.45,"h":57.65,"l":56.73,"c":57.59},
{"i":500,"o":57.59,"h":57.75,"l":57.5,"c":57.69},
{"i":501,"o":57.8,"h":58.15,"l":57.7,"c":58.09},
{"i":502,"o":58.02,"h":58.15,"l":57.6,"c":58.09},
{"i":503,"o":58.09,"h":58.45,"l":58.0,"c":58.4},
{"i":504,"o":58.23,"h":58.95,"l":58.15,"c":58.42},
{"i":505,"o":58.42,"h":58.5,"l":58.1,"c":58.16},
{"i":506,"o":58.16,"h":58.5,"l":58.05,"c":58.45},
{"i":507,"o":58.45,"h":58.6,"l":58.4,"c":58.52},
{"i":508,"o":58.52,"h":58.6,"l":58.3,"c":58.38},
{"i":509,"o":58.45,"h":58.5,"l":58.2,"c":58.3},
{"i":510,"o":58.52,"h":58.6,"l":58.15,"c":58.23},
{"i":511,"o":58.23,"h":58.6,"l":58.05,"c":58.55},
{"i":512,"o":58.52,"h":58.8,"l":58.45,"c":58.73},
{"i":513,"o":58.8,"h":58.85,"l":58.4,"c":58.52},
{"i":514,"o":58.52,"h":58.85,"l":58.3,"c":58.8},
{"i":515,"o":58.73,"h":59.1,"l":58.65,"c":59.02},
{"i":516,"o":59.12,"h":59.2,"l":58.75,"c":58.8},
{"i":517,"o":58.95,"h":59.0,"l":58.6,"c":58.66},
{"i":518,"o":58.69,"h":59.0,"l":58.6,"c":58.95},
{"i":519,"o":58.88,"h":59.1,"l":58.8,"c":59.02},
{"i":520,"o":59.05,"h":59.35,"l":58.6,"c":58.69},
{"i":521,"o":58.8,"h":58.85,"l":58.4,"c":58.45},
{"i":522,"o":58.3,"h":58.95,"l":58.2,"c":58.88},
{"i":523,"o":58.59,"h":59.0,"l":58.5,"c":58.88},
{"i":524,"o":58.8,"h":58.85,"l":58.6,"c":58.66},
{"i":525,"o":58.66,"h":58.95,"l":58.6,"c":58.88},
{"i":526,"o":58.8,"h":58.85,"l":58.6,"c":58.66},
{"i":527,"o":58.66,"h":58.9,"l":58.6,"c":58.83},
{"i":528,"o":58.88,"h":58.95,"l":58.8,"c":58.9},
{"i":529,"o":58.92,"h":59.0,"l":58.85,"c":58.93},
{"i":530,"o":58.95,"h":59.25,"l":58.9,"c":59.16},
{"i":531,"o":59.16,"h":59.95,"l":59.1,"c":59.45},
{"i":532,"o":59.31,"h":59.45,"l":59.25,"c":59.38},
{"i":533,"o":59.23,"h":59.5,"l":59.15,"c":59.45},
{"i":534,"o":59.38,"h":59.5,"l":59.3,"c":59.45},
{"i":535,"o":59.41,"h":59.6,"l":59.35,"c":59.55},
{"i":536,"o":59.52,"h":59.75,"l":59.45,"c":59.69},
{"i":537,"o":59.52,"h":60.09,"l":59.45,"c":59.73},
{"i":538,"o":59.59,"h":59.65,"l":59.3,"c":59.38},
{"i":539,"o":59.38,"h":59.45,"l":59.3,"c":59.37},
{"i":540,"o":59.59,"h":59.65,"l":59.15,"c":59.23},
{"i":541,"o":59.23,"h":59.3,"l":59.15,"c":59.22},
{"i":542,"o":59.23,"h":59.3,"l":59.15,"c":59.24},
{"i":543,"o":59.16,"h":59.2,"l":58.7,"c":58.8},
{"i":544,"o":58.8,"h":59.2,"l":58.75,"c":59.16},
{"i":545,"o":59.16,"h":59.25,"l":59.1,"c":59.17},
{"i":546,"o":59.23,"h":59.45,"l":59.15,"c":59.38},
{"i":547,"o":59.31,"h":59.38,"l":58.75,"c":58.83},
{"i":548,"o":58.95,"h":59.0,"l":58.65,"c":58.73},
{"i":549,"o":58.78,"h":58.85,"l":58.7,"c":58.77},
{"i":550,"o":59.02,"h":59.1,"l":58.75,"c":58.83},
{"i":551,"o":59.02,"h":59.1,"l":58.4,"c":58.45},
{"i":552,"o":58.23,"h":58.5,"l":58.15,"c":58.45},
{"i":553,"o":58.23,"h":58.65,"l":58.15,"c":58.59},
{"i":554,"o":58.55,"h":58.6,"l":58.4,"c":58.45},
{"i":555,"o":58.52,"h":58.6,"l":58.2,"c":58.26},
{"i":556,"o":58.26,"h":58.45,"l":58.2,"c":58.38},
{"i":557,"o":58.3,"h":58.5,"l":58.25,"c":58.45},
{"i":558,"o":58.38,"h":58.45,"l":58.25,"c":58.3},
{"i":559,"o":58.35,"h":58.4,"l":58.02,"c":58.23},
{"i":560,"o":58.26,"h":58.6,"l":58.2,"c":58.55},
{"i":561,"o":58.55,"h":58.6,"l":58.3,"c":58.38},
{"i":562,"o":58.45,"h":58.55,"l":58.4,"c":58.46},
{"i":563,"o":58.45,"h":58.6,"l":58.4,"c":58.55},
{"i":564,"o":58.55,"h":58.72,"l":58.5,"c":58.66},
{"i":565,"o":58.59,"h":58.8,"l":58.55,"c":58.73},
{"i":566,"o":58.73,"h":58.8,"l":58.65,"c":58.74},
{"i":567,"o":58.66,"h":59.16,"l":58.6,"c":58.73},
{"i":568,"o":58.8,"h":58.85,"l":58.6,"c":58.66},
{"i":569,"o":58.69,"h":58.85,"l":58.65,"c":58.8},
{"i":570,"o":58.78,"h":58.85,"l":58.6,"c":58.66},
{"i":571,"o":58.52,"h":58.72,"l":58.45,"c":58.66},
{"i":572,"o":58.52,"h":58.95,"l":58.45,"c":58.88},
{"i":573,"o":58.88,"h":59.15,"l":58.8,"c":59.09},
{"i":574,"o":59.31,"h":61.31,"l":59.2,"c":60.45},
{"i":575,"o":60.45,"h":61.31,"l":59.15,"c":59.24},
{"i":576,"o":59.24,"h":59.3,"l":58.95,"c":59.02},
{"i":577,"o":59.06,"h":59.32,"l":59.0,"c":59.26},
{"i":578,"o":59.45,"h":59.74,"l":59.3,"c":59.38},
{"i":579,"o":59.45,"h":59.52,"l":58.0,"c":58.09},
{"i":580,"o":58.09,"h":58.15,"l":57.3,"c":57.38},
{"i":581,"o":57.45,"h":57.72,"l":57.38,"c":57.66},
{"i":582,"o":57.66,"h":57.95,"l":57.6,"c":57.88},
{"i":583,"o":57.66,"h":57.72,"l":55.09,"c":56.06},
{"i":584,"o":56.09,"h":56.15,"l":55.9,"c":55.95},
{"i":585,"o":56.02,"h":56.52,"l":55.95,"c":56.45},
{"i":586,"o":56.52,"h":57.52,"l":55.73,"c":57.09},
{"i":587,"o":57.02,"h":57.1,"l":56.38,"c":56.45},
{"i":588,"o":56.38,"h":56.6,"l":56.3,"c":56.52},
{"i":589,"o":56.52,"h":57.02,"l":56.45,"c":56.95},
{"i":590,"o":56.95,"h":57.15,"l":56.88,"c":57.09},
{"i":591,"o":56.88,"h":57.09,"l":56.8,"c":57.02},
{"i":592,"o":56.66,"h":56.95,"l":56.6,"c":56.88},
{"i":593,"o":56.95,"h":57.02,"l":56.88,"c":56.96},
{"i":594,"o":57.16,"h":57.45,"l":57.09,"c":57.38},
{"i":595,"o":57.38,"h":57.45,"l":56.88,"c":56.95},
{"i":596,"o":56.95,"h":57.02,"l":56.38,"c":56.45},
{"i":597,"o":56.45,"h":56.52,"l":56.3,"c":56.38},
{"i":598,"o":56.45,"h":56.52,"l":56.15,"c":56.23},
{"i":599,"o":56.38,"h":56.45,"l":55.59,"c":55.66},
{"i":600,"o":55.8,"h":55.88,"l":55.59,"c":55.66},
{"i":601,"o":56.02,"h":56.09,"l":55.52,"c":55.59},
{"i":602,"o":55.59,"h":56.52,"l":55.52,"c":56.45},
{"i":603,"o":55.66,"h":55.73,"l":51.8,"c":52.08},
{"i":604,"o":52.08,"h":55.88,"l":52.0,"c":55.8},
{"i":605,"o":55.8,"h":57.09,"l":55.73,"c":57.02},
{"i":606,"o":57.02,"h":57.09,"l":56.45,"c":56.52},
{"i":607,"o":56.59,"h":56.66,"l":56.15,"c":56.23},
{"i":608,"o":56.45,"h":57.73,"l":56.38,"c":57.66},
{"i":609,"o":57.59,"h":57.88,"l":57.52,"c":57.81},
{"i":610,"o":57.59,"h":57.8,"l":57.52,"c":57.73},
{"i":611,"o":57.59,"h":57.95,"l":57.52,"c":57.88},
{"i":612,"o":57.95,"h":58.02,"l":57.16,"c":57.23},
{"i":613,"o":57.95,"h":58.02,"l":57.02,"c":57.09},
{"i":614,"o":57.66,"h":57.73,"l":56.09,"c":56.8},
{"i":615,"o":57.09,"h":58.38,"l":57.02,"c":58.31},
{"i":616,"o":58.31,"h":58.59,"l":58.23,"c":58.52},
{"i":617,"o":58.59,"h":58.66,"l":58.23,"c":58.31},
{"i":618,"o":58.52,"h":58.95,"l":58.45,"c":58.88},
{"i":619,"o":58.81,"h":58.9,"l":58.75,"c":58.82},
{"i":620,"o":58.88,"h":59.38,"l":58.81,"c":59.31},
{"i":621,"o":59.16,"h":59.38,"l":59.09,"c":59.31},
{"i":622,"o":58.95,"h":59.38,"l":58.88,"c":59.31},
{"i":623,"o":59.31,"h":59.66,"l":59.24,"c":59.59},
{"i":624,"o":59.59,"h":59.88,"l":59.52,"c":59.81},
{"i":625,"o":59.81,"h":59.88,"l":59.45,"c":59.52},
{"i":626,"o":59.81,"h":60.31,"l":59.74,"c":60.24},
{"i":627,"o":60.24,"h":60.88,"l":60.17,"c":60.81},
{"i":628,"o":60.81,"h":61.38,"l":60.74,"c":61.31},
{"i":629,"o":61.24,"h":61.31,"l":60.95,"c":61.02},
{"i":630,"o":61.31,"h":62.24,"l":61.24,"c":62.17},
{"i":631,"o":62.02,"h":62.52,"l":61.95,"c":62.45},
{"i":632,"o":62.45,"h":62.67,"l":62.38,"c":62.6},
{"i":633,"o":62.6,"h":62.67,"l":62.24,"c":62.31},
{"i":634,"o":62.6,"h":63.45,"l":62.52,"c":63.05},
{"i":635,"o":63.1,"h":63.17,"l":62.31,"c":62.38},
{"i":636,"o":62.67,"h":62.74,"l":62.31,"c":62.38},
{"i":637,"o":62.45,"h":62.98,"l":62.38,"c":62.95},
{"i":638,"o":62.81,"h":62.88,"l":61.95,"c":62.02},
{"i":639,"o":62.17,"h":62.24,"l":62.02,"c":62.1},
{"i":640,"o":62.24,"h":62.31,"l":62.02,"c":62.1},
{"i":641,"o":62.1,"h":62.17,"l":62.02,"c":62.09},
{"i":642,"o":62.17,"h":62.24,"l":61.88,"c":61.95},
{"i":643,"o":62.02,"h":62.09,"l":61.45,"c":61.52},
{"i":644,"o":61.52,"h":61.59,"l":60.6,"c":60.67},
{"i":645,"o":60.6738,"h":60.6763,"l":60.1313,"c":60.605}
]
},
"layer":[
{"data":{"name":"candles"},"transform":[{"filter":"datum.i == 645"}],
 "mark":{"type":"rule","color":"#bdbdbd","strokeWidth":1.2},
 "encoding":{"y":{"field":"c","type":"quantitative","scale":{"domain":[42.22,126.09],"nice":false,"zero":false},
   "axis":{"orient":"right","title":null,"values":[124.516,121.711,118.906,116.1435,113.3385,110.576,107.771,104.966,102.2035,99.3985,96.636,93.831,91.026,88.2635,85.4585,82.6535,79.891,77.086,74.3235,71.5185,68.7135,65.951,63.146,60.3835,57.5785,54.7735,52.011,49.206,46.401,43.6385],
   "format":".4f","labelFont":"DejaVu Sans","labelFontSize":15,"labelPadding":6,"tickSize":4,"labelBaseline":"middle","labelAlign":"left","labelFlush":false,"labelOverlap":false,"labelBound":false,
   "grid":true,"gridColor":"#c4c4c4","gridDash":[4,3],"gridWidth":1,"domainWidth":1.5}}}},
{"data":{"name":"levels"},
 "mark":{"type":"rule"},
 "encoding":{"y":{"field":"v","type":"quantitative"},
  "color":{"field":"k","type":"nominal","legend":null,"scale":{"domain":["+2/8","+1/8","8/8","7/8","6/8","5/8","4/8","3/8","2/8","1/8","0/8","-1/8","-2/8","low"],"range":["#BA2183","#FF00FF","#1E90FF","#FF8C00","#FF4500","#556B2F","#1E90FF","#556B2F","#FF4500","#FF8C00","#1E90FF","#FF00FF","#BA2183","#FF0000"]}},
  "strokeWidth":{"condition":{"test":"datum.v == 62.5 || datum.v == 50","value":2.6},"value":1.2}}},
{"data":{"name":"levels"},"transform":[{"filter":"datum.t != ''"}],
 "mark":{"type":"text","align":"center","baseline":"alphabetic","dy":19,"font":"Liberation Sans","fontSize":21},
 "encoding":{"x":{"datum":619.5},"y":{"field":"v","type":"quantitative"},"text":{"field":"t"},
  "color":{"field":"k","type":"nominal","legend":null}}},
{"data":{"name":"candles"},
 "mark":{"type":"rule","color":"black","strokeWidth":1},
 "encoding":{"x":{"field":"i","type":"quantitative","scale":{"domain":[-0.5,935.75],"nice":false,"zero":false},
   "axis":{"title":null,"values":[0.5,16.5,32.5,48.5,64.5,80.5,96.5,112.5,128.5,144.5,160.5,176.5,192.5,208.5,224.5,240.5,256.5,272.5,288.5,304.5,320.5,336.5,352.5,368.5,384.5,400.5,416.5,432.5,448.5,464.5,480.5,496.5,512.5,528.5,544.5,560.5,576.5,592.5,608.5,624.5,640.5,656.5,672.5,688.5,704.5,720.5,736.5,752.5,768.5,784.5,800.5,816.5,832.5,848.5,864.5,880.5,896.5,912.5,928.5],
   "labelExpr":"['14 Jan 2022','24 Jan 22:00','2 Feb 10:00','10 Feb 18:00','21 Feb 06:00','2 Mar 10:00','23 Mar 06:00','6 Apr 18:00','21 Apr 14:00','12 May 10:00','26 May 18:00','10 Jun 14:00','28 Jun 10:00','12 Jul 18:00','27 Jul 14:00','11 Aug 10:00','25 Aug 18:00','9 Sep 14:00','21 Sep 14:00','3 Oct 14:00','13 Oct 14:00'][(datum.value - 0.5) / 32] || ''",
   "labelAlign":"left","labelBaseline":"top","labelOffset":2,"labelPadding":3,"labelFont":"DejaVu Sans","labelFontSize":16,"labelFlush":false,"labelOverlap":false,"labelBound":false,
   "tickSize":4,"tickOpacity":{"condition":{"test":"((datum.value - 0.5) / 32) % 1 == 0","value":1},"value":0},
   "grid":true,"gridColor":"#c4c4c4","gridDash":[4,3],"gridWidth":1,"domainWidth":1.5}},
  "y":{"field":"l","type":"quantitative"},"y2":{"field":"h"}}},
{"data":{"name":"candles"},
 "mark":{"type":"bar","width":2,"stroke":"black","strokeWidth":1},
 "encoding":{"x":{"field":"i","type":"quantitative"},"y":{"field":"o","type":"quantitative"},"y2":{"field":"c"},
  "fill":{"condition":{"test":"datum.c >= datum.o","value":"white"},"value":"black"}}},
{"data":{"name":"lines"},"transform":[{"filter":"datum.g != 'r'"}],
 "mark":{"type":"line","color":"#4B5EEA","strokeWidth":5,"strokeCap":"round"},
 "encoding":{"x":{"field":"i","type":"quantitative"},"y":{"field":"v","type":"quantitative"},"detail":{"field":"g"}}},
{"data":{"name":"lines"},"transform":[{"filter":"datum.g == 'r'"}],
 "mark":{"type":"line","color":"#EE4B4B","strokeWidth":5,"strokeCap":"round"},
 "encoding":{"x":{"field":"i","type":"quantitative"},"y":{"field":"v","type":"quantitative"}}},
{"data":{"name":"lines"},"transform":[{"filter":"datum.g == 'r' && datum.i > 700"}],
 "mark":{"type":"point","shape":"triangle-up","angle":148,"filled":true,"color":"#EE4B4B","opacity":1,"size":320},
 "encoding":{"x":{"field":"i","type":"quantitative"},"y":{"field":"v","type":"quantitative"}}},
{"data":{"values":[{}]},
 "mark":{"type":"text","align":"center","baseline":"alphabetic","font":"Liberation Serif","fontStyle":"italic","fontSize":84,"color":"#777777","opacity":0.45,"dx":4,"dy":6},
 "encoding":{"x":{"datum":478.5},"y":{"datum":118.24},"text":{"value":"Волновой анализ USDRUB H4"}}},
{"data":{"values":[{}]},
 "mark":{"type":"text","align":"center","baseline":"alphabetic","font":"Liberation Serif","fontStyle":"italic","fontSize":84,"color":"black"},
 "encoding":{"x":{"datum":478.5},"y":{"datum":118.24},"text":{"value":"Волновой анализ USDRUB H4"}}},
{"data":{"values":[{}]},
 "mark":{"type":"text","align":"center","baseline":"alphabetic","font":"Liberation Serif","fontStyle":"italic","fontSize":66,"color":"#777777","opacity":0.45,"dx":4,"dy":6},
 "encoding":{"x":{"datum":479},"y":{"datum":109.05},"text":{"value":"( 15 октября 2022 г.)"}}},
{"data":{"values":[{}]},
 "mark":{"type":"text","align":"center","baseline":"alphabetic","font":"Liberation Serif","fontStyle":"italic","fontSize":66,"color":"black"},
 "encoding":{"x":{"datum":479},"y":{"datum":109.05},"text":{"value":"( 15 октября 2022 г.)"}}},
{"data":{"values":[{}]},
 "mark":{"type":"point","shape":"triangle-down","filled":true,"color":"black","opacity":1,"size":60},
 "encoding":{"x":{"datum":2.35},"y":{"datum":125.53}}},
{"data":{"values":[{}]},
 "mark":{"type":"text","align":"left","baseline":"alphabetic","font":"DejaVu Sans","fontSize":16,"color":"black"},
 "encoding":{"x":{"datum":7.25},"y":{"datum":125.23},"text":{"value":"USDRUB,H4\u00a0 60.6738 60.6763 60.1313 60.6050"}}},
{"data":{"values":[{}]},
 "mark":{"type":"point","shape":"triangle-down","filled":true,"color":"#a8a8a8","opacity":1,"size":120},
 "encoding":{"x":{"datum":645},"y":{"datum":126.0}}},
{"data":{"name":"levels"},
 "mark":{"type":"rule","strokeWidth":22,"strokeCap":"butt"},
 "encoding":{"x":{"datum":936.1},"x2":{"datum":956.2},"y":{"field":"v","type":"quantitative"},
  "color":{"field":"k","type":"nominal","legend":null}}},
{"data":{"name":"levels"},
 "mark":{"type":"text","align":"left","baseline":"middle","font":"DejaVu Sans","fontSize":18,"color":"white"},
 "encoding":{"x":{"datum":936.6},"y":{"field":"v","type":"quantitative"},"text":{"field":"v","type":"quantitative","format":".4f"}}}
]
}
